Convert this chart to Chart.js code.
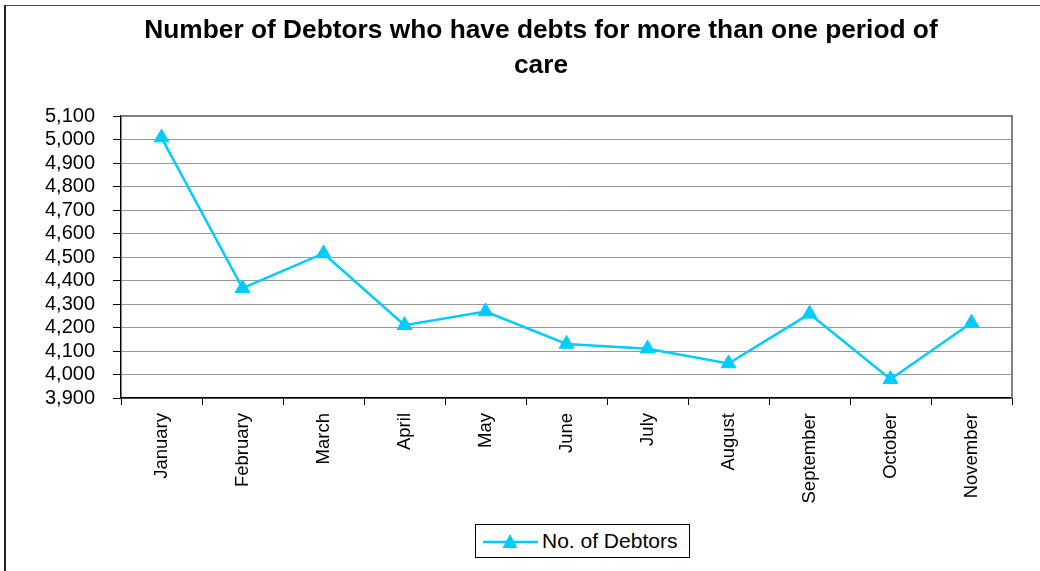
<!DOCTYPE html>
<html>
<head>
<meta charset="utf-8">
<script src="https://cdn.jsdelivr.net/npm/chart.js@4.4.0/dist/chart.umd.min.js"></script>
<style>
  html, body { margin: 0; padding: 0; background: #fff; }
  #wrap { position: relative; width: 1040px; height: 571px; overflow: hidden; }
  #frame { position: absolute; left: 4px; top: 5px; width: 1100px; height: 700px;
           border-left: 2px solid #222; border-top: 1px solid #444; }
  #chart { position: absolute; left: 0; top: 0; }
  #title { position: absolute; left: 91px; top: 12px; width: 900px; text-align: center;
           font-family: Arial, "Liberation Sans", sans-serif; font-weight: bold;
           font-size: 26.3px; line-height: 35px; color: #000; }
  #legend { position: absolute; left: 475px; top: 524px; width: 213px; height: 32px;
            border: 1px solid #000; background: #fff;
            font-family: Arial, "Liberation Sans", sans-serif; font-size: 21px; color: #000; }
  #legend svg { position: absolute; left: 6px; top: 6px; }
  #legend span { position: absolute; left: 66px; top: 4px; white-space: nowrap; }
</style>
</head>
<body>
<div id="wrap">
  <div id="frame"></div>
  <canvas id="chart" width="1040" height="571"></canvas>
  <div id="title">Number of Debtors who have debts for more than one period of<br>care</div>
  <div id="legend">
    <svg width="60" height="22"><line x1="1" y1="11" x2="56" y2="11" stroke="#00CCFF" stroke-width="2.5"/>
      <polygon points="28,3 35.5,17 20.5,17" fill="#00CCFF"/></svg>
    <span>No. of Debtors</span>
  </div>
</div>
<script>
// data
const months = ["January", "February", "March", "April", "May", "June",
                "July", "August", "September", "October", "November"];
const debtors = [5008, 4367, 4515, 4210, 4268, 4130, 4110, 4047, 4258, 3980, 4220];
const yMin = 3900;
const yMax = 5100;
const yStep = 100;

Chart.defaults.font.family = 'Arial, "Liberation Sans", sans-serif';
Chart.defaults.color = "#000";

// grey frame on top and right of the plot area
const plotBorder = {
  id: "plotBorder",
  beforeDatasetsDraw(chart) {
    const a = chart.chartArea;
    const ctx = chart.ctx;
    ctx.save();
    ctx.strokeStyle = "#808080";
    ctx.lineWidth = 2;
    ctx.beginPath();
    ctx.moveTo(a.left, a.top);
    ctx.lineTo(a.right, a.top);
    ctx.lineTo(a.right, a.bottom);
    ctx.stroke();
    ctx.restore();
  },
};

new Chart(document.getElementById("chart"), {
  type: "line",
  data: {
    labels: months,
    datasets: [
      {
        label: "No. of Debtors",
        data: debtors,
        borderColor: "#00CCFF",
        backgroundColor: "#00CCFF",
        borderWidth: 2.5,
        tension: 0,
        pointStyle: "triangle",
        pointRadius: 8.5,
        pointBorderWidth: 1,
        pointBorderColor: "#00CCFF",
      },
    ],
  },
  plugins: [plotBorder],
  options: {
    responsive: false,
    animation: false,
    layout: { padding: { left: 30, right: 28, top: 116, bottom: 43 } },
    plugins: {
      legend: { display: false },
      tooltip: { enabled: false },
      title: { display: false },
    },
    scales: {
      x: {
        offset: true,
        grid: { offset: true, drawOnChartArea: false, tickLength: 7, color: "#000", tickWidth: 1 },
        border: { color: "#000", width: 1.5 },
        ticks: { autoSkip: false, minRotation: 90, maxRotation: 90, padding: 8, font: { size: 18.5 } },
        afterFit(scale) { scale.height = 130; },
      },
      y: {
        min: yMin,
        max: yMax,
        ticks: { stepSize: yStep, autoSkip: false, padding: 18, font: { size: 20 } },
        grid: { color: "#999", lineWidth: 1, tickLength: 8, tickColor: "#000" },
        border: { color: "#000", width: 1.5 },
        afterFit(scale) { scale.width = 91; },
      },
    },
  },
});
</script>
</body>
</html>
